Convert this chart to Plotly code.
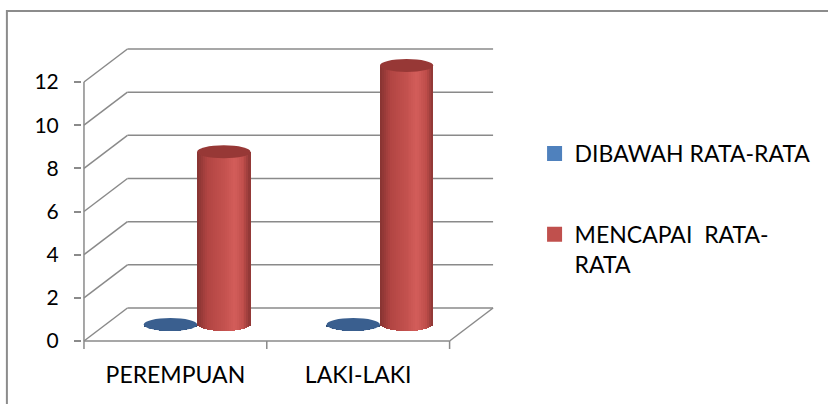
import numpy as np
import plotly.graph_objects as go

# ---- data ----
categories = ["PEREMPUAN", "LAKI-LAKI"]
series_names = ["DIBAWAH RATA-RATA", "MENCAPAI  RATA-<br>RATA"]
below_avg = [0, 0]
reached_avg = [8, 12]
y_ticks = [0, 2, 4, 6, 8, 10, 12]

series_values = [below_avg, reached_avg]
legend_colors = ["#4F81BD", "#C0504D"]
top_colors = ["#3A5F8F", "#973836"]
# gradient stops across a cylinder (u from -1 left to +1 right)
grad_stops = [
    [(-1.0, (0x2E, 0x4C, 0x74)), (0.0, (0x3A, 0x5F, 0x8F)), (1.0, (0x2E, 0x4C, 0x74))],
    [(-1.0, (0x86, 0x33, 0x31)), (-0.6, (0xB2, 0x45, 0x43)), (0.0, (0xC3, 0x51, 0x4E)),
     (0.4, (0xD3, 0x5D, 0x5A)), (0.75, (0xBE, 0x4D, 0x4A)), (1.0, (0x8C, 0x36, 0x34))],
]

# ---- geometry (pixel layout of the pseudo-3D frame) ----
W, H = 828, 404
PX_X = 185.0          # px per category unit
PX_Y = 259.0 / 12     # px per value unit
L, R, T, B = 82, 504, 44, 352
X0PX, Y0PX = 84, 341
xr = [(L - X0PX) / PX_X, (R - X0PX) / PX_X]
yr = [(Y0PX - B) / PX_Y, (Y0PX - T) / PX_Y]
DX = 44 / PX_X
DY = 33 / PX_Y
CYL_W = 54 / PX_X
ELL_H = 6.5 / PX_Y
N_STRIPS = 27
GRID = "#8A8A8A"
FONT = "Lato"


def shade(si, u):
    stops = grad_stops[si]
    for (u0, c0), (u1, c1) in zip(stops[:-1], stops[1:]):
        if u0 <= u <= u1:
            t = (u - u0) / (u1 - u0)
            c = [round(a + (b - a) * t) for a, b in zip(c0, c1)]
            return "rgb(%d,%d,%d)" % tuple(c)
    return "rgb(%d,%d,%d)" % stops[-1][1]


def px2paper_x(px):
    return (px - L) / (R - L)


def px2paper_y(py):
    return (B - py) / (B - T)


fig = go.Figure()
shapes = []

ncat = len(categories)
# back wall gridlines and left wall diagonals
for v in y_ticks:
    shapes.append(dict(type="line", xref="x", yref="y", x0=DX, y0=v + DY, x1=ncat + DX, y1=v + DY,
                       line=dict(color=GRID, width=1.5), layer="below"))
    shapes.append(dict(type="line", xref="x", yref="y", x0=0, y0=v, x1=DX, y1=v + DY,
                       line=dict(color=GRID, width=1.5), layer="below"))
# front axis line, floor edges, category ticks
shapes.append(dict(type="line", xref="x", yref="y", x0=0, y0=0, x1=0, y1=max(y_ticks),
                   line=dict(color=GRID, width=1.5), layer="below"))
shapes.append(dict(type="line", xref="x", yref="y", x0=0, y0=0, x1=ncat, y1=0,
                   line=dict(color=GRID, width=1.5), layer="below"))
shapes.append(dict(type="line", xref="x", yref="y", x0=ncat, y0=0, x1=ncat + DX, y1=DY,
                   line=dict(color=GRID, width=1.5), layer="below"))
for k in range(ncat + 1):
    shapes.append(dict(type="line", xref="x", yref="y", x0=k, y0=0, x1=k, y1=-8 / PX_Y,
                       line=dict(color=GRID, width=1.5), layer="below"))

# cylinders
u_vals = (np.arange(N_STRIPS) + 0.5) / N_STRIPS * 2 - 1
for si, vals in enumerate(series_values):
    xs, bases, heights, cols = [], [], [], []
    for ci, v in enumerate(vals):
        cx = ci + 0.5 + DX / 2 + (si - 0.5) * CYL_W
        for uu in u_vals:
            dip = ELL_H * np.sqrt(max(0.0, 1 - uu ** 2))
            xs.append(cx + uu * CYL_W / 2)
            bases.append(DY / 2 - dip)
            heights.append(v + dip)
            cols.append(shade(si, uu))
        shapes.append(dict(type="circle", xref="x", yref="y",
                           x0=cx - CYL_W / 2, x1=cx + CYL_W / 2,
                           y0=DY / 2 + v - ELL_H, y1=DY / 2 + v + ELL_H,
                           fillcolor=top_colors[si], line=dict(width=0), layer="above"))
    fig.add_trace(go.Bar(x=xs, y=heights, base=bases, width=CYL_W / N_STRIPS * 1.08,
                         marker=dict(color=cols, line=dict(width=0)),
                         showlegend=False, hoverinfo="skip"))

# legend entries (square markers)
for si, name in enumerate(series_names):
    fig.add_trace(go.Scatter(x=[None], y=[None], name=name, mode="markers",
                             marker=dict(symbol="square", size=15, color=legend_colors[si],
                                         line=dict(width=0)),
                             legendgroup="g%d" % si, showlegend=True))

# outer border
shapes.append(dict(type="rect", xref="paper", yref="paper",
                   x0=px2paper_x(6), x1=px2paper_x(840), y0=px2paper_y(420), y1=px2paper_y(11),
                   line=dict(color="#8C8C8C", width=2), fillcolor="rgba(0,0,0,0)"))

fig.update_layout(
    width=W, height=H,
    margin=dict(l=L, r=W - R, t=T, b=H - B, pad=0),
    paper_bgcolor="white", plot_bgcolor="white",
    barmode="overlay", bargap=0,
    shapes=shapes,
    font=dict(family=FONT, color="black"),
    xaxis=dict(range=xr, tickvals=[i + 0.5 for i in range(ncat)], ticktext=categories,
               showgrid=False, zeroline=False, showline=False, ticks="",
               tickfont=dict(size=23), ticklabelstandoff=7, fixedrange=True),
    yaxis=dict(range=yr, tickvals=y_ticks, showgrid=False, zeroline=False, showline=False,
               ticks="outside", ticklen=7, tickwidth=1.5, tickcolor=GRID,
               tickfont=dict(size=21), ticklabelstandoff=11, fixedrange=True),
    legend=dict(x=px2paper_x(540), y=px2paper_y(132), xanchor="left", yanchor="top",
                font=dict(size=23), tracegroupgap=48, valign="top",
                bgcolor="rgba(0,0,0,0)"),
    showlegend=True,
)

fig.write_html("out.html")
